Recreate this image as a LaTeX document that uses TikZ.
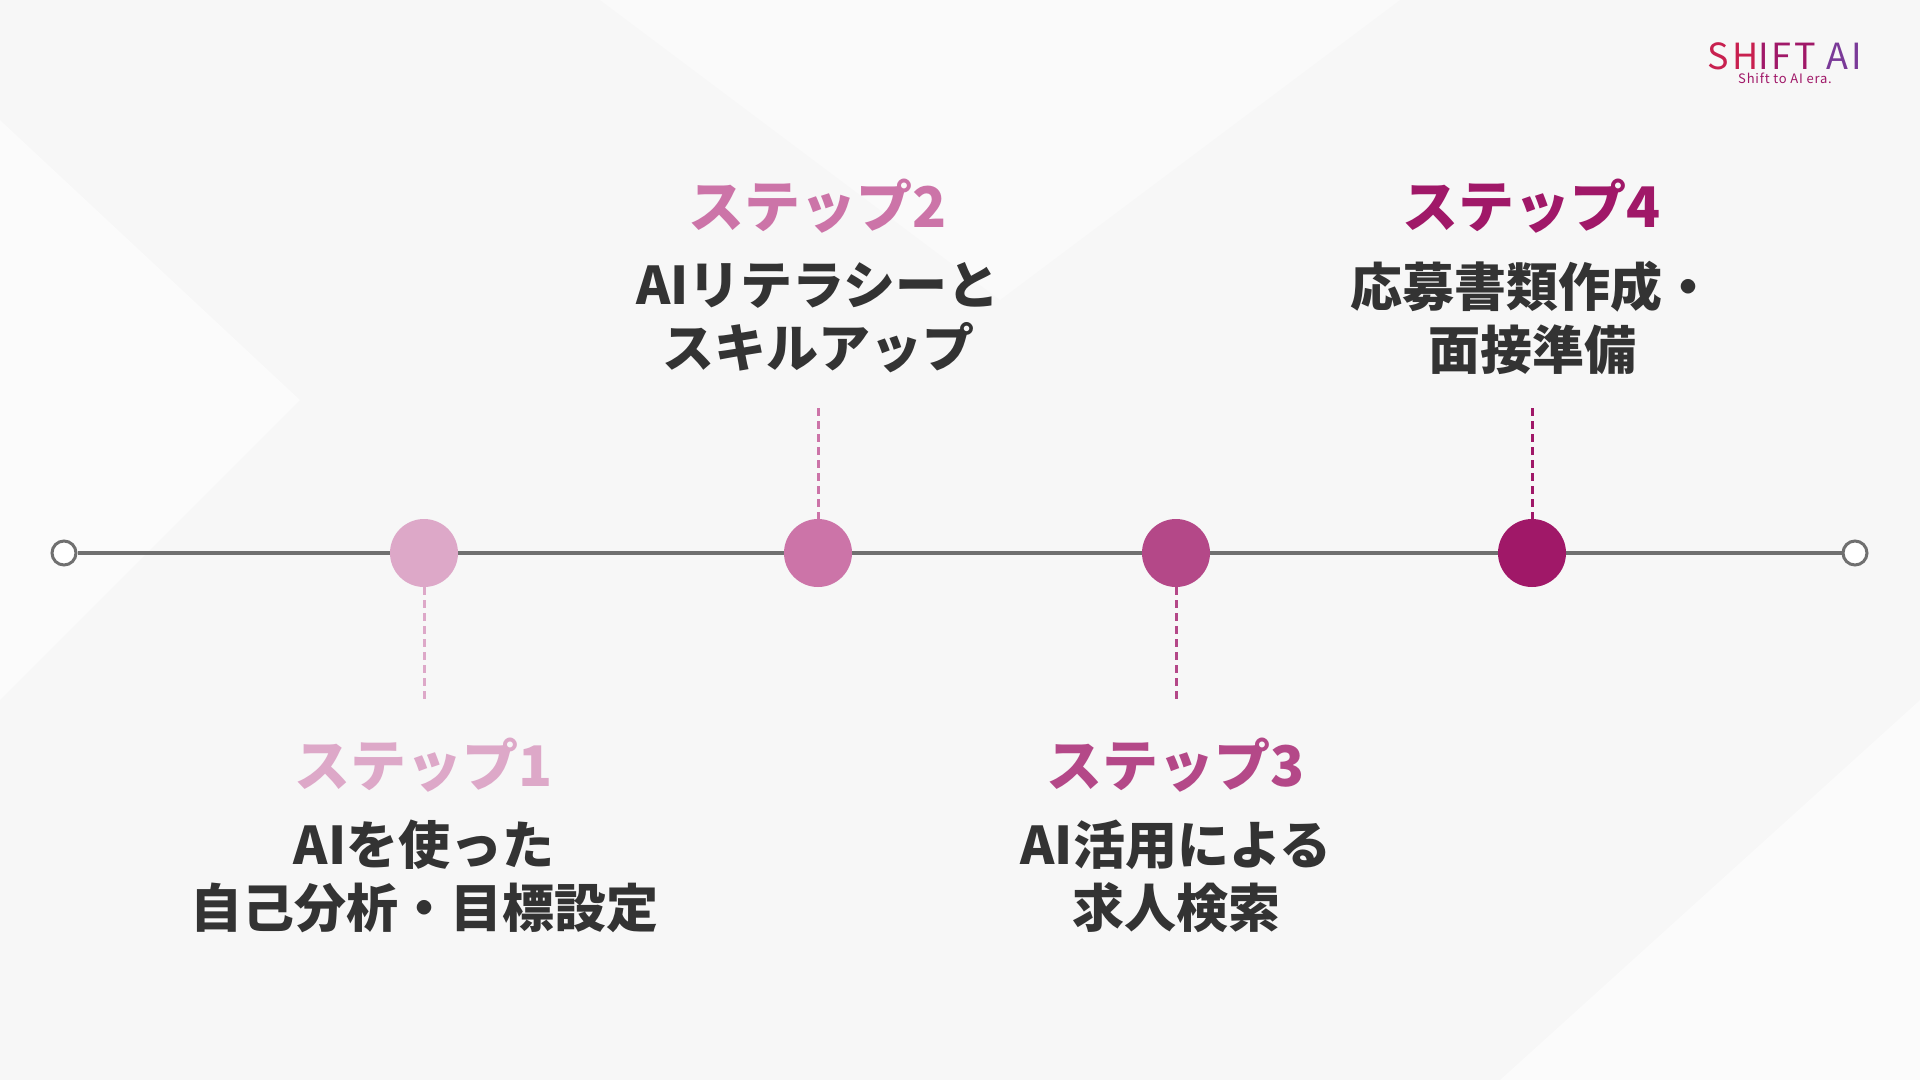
\documentclass[tikz,border=0pt]{standalone}
\usepackage{fontspec}
\setmainfont{Noto Sans CJK JP}
\usetikzlibrary{positioning}
\definecolor{stepA}{HTML}{DDA8C8}
\definecolor{stepB}{HTML}{CC74A8}
\definecolor{stepC}{HTML}{B44888}
\definecolor{stepD}{HTML}{A01868}
\definecolor{bodytxt}{HTML}{333333}
\definecolor{axis}{HTML}{707070}
\definecolor{logoA}{HTML}{C8204F}
\definecolor{logoB}{HTML}{7A3A98}
\begin{document}
\begin{tikzpicture}[x=1pt,y=1pt,yscale=-1,
  dot/.style={circle,minimum size=68pt,inner sep=0pt},
  endring/.style={circle,draw=axis,line width=3pt,fill=white,minimum size=24pt,inner sep=0pt},
  title/.style={font=\fontsize{56}{60}\selectfont\bfseries},
  body/.style={font=\fontsize{52}{63}\selectfont\bfseries,text=bodytxt,align=center},
  guide/.style={dashed,line width=3pt,dash pattern=on 8pt off 5pt}]
  % background
  \fill[gray!6] (0,0) rectangle (1920,1080);
  \fill[white,opacity=.5] (0,120) -- (300,400) -- (0,700) -- cycle;
  \fill[white,opacity=.5] (1500,1080) -- (1920,700) -- (1920,1080) -- cycle;
  \fill[white,opacity=.4] (600,0) -- (1000,300) -- (1400,0) -- cycle;
  \useasboundingbox (0,0) rectangle (1920,1080);

  % axis
  \node[endring] (L) at (64,553) {};
  \node[endring] (R) at (1855,553) {};
  \draw[axis,line width=4pt] (L) -- (R);

  % steps
  \node[dot,fill=stepA] (s1) at (424,553) {};
  \node[dot,fill=stepB] (s2) at (818,553) {};
  \node[dot,fill=stepC] (s3) at (1176,553) {};
  \node[dot,fill=stepD] (s4) at (1532,553) {};

  \coordinate (g1) at (424,704);
  \coordinate (g2) at (818,408);
  \coordinate (g3) at (1176,704);
  \coordinate (g4) at (1532,408);
  \draw[guide,stepA] (s1) -- (g1);
  \draw[guide,stepB] (g2) -- (s2);
  \draw[guide,stepC] (s3) -- (g3);
  \draw[guide,stepD] (g4) -- (s4);

  % labels
  \node[title,text=stepA] (t1) at (424,765) {ステップ1};
  \node[body] (b1) at (424,876) {AIを使った\\自己分析・目標設定};
  \node[title,text=stepB] (t2) at (818,206) {ステップ2};
  \node[body] (b2) at (818,318) {AIリテラシーと\\スキルアップ};
  \node[title,text=stepC] (t3) at (1176,765) {ステップ3};
  \node[body] (b3) at (1176,876) {AI活用による\\求人検索};
  \node[title,text=stepD] (t4) at (1532,206) {ステップ4};
  \node[body] (b4) at (1532,318) {応募書類作成・\\面接準備};

  % logo
  \node[font=\fontsize{36}{40}\selectfont\addfontfeatures{LetterSpace=8},text=stepD] (logo) at (1785,56) {\textcolor{logoA}{SH}IFT \textcolor{logoB}{AI}};
  \node[font=\fontsize{13}{16}\selectfont\addfontfeatures{LetterSpace=6},text=stepD,below=-4pt of logo] (tag) {Shift to AI era.};
\end{tikzpicture}
\end{document}
